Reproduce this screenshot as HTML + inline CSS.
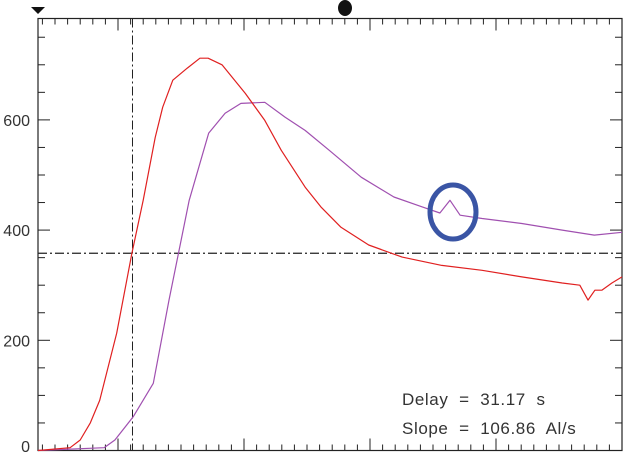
<!DOCTYPE html>
<html><head><meta charset="utf-8"><style>
body{margin:0;background:#fff;}
svg{display:block;font-family:"Liberation Sans",sans-serif;}
</style></head><body>
<svg id="c" width="629" height="453"></svg>
<script>
const redX=[7.3,12.4,14.0,15.6,17.1,19.8,22.2,24.0,25.9,27.1,28.7,31.0,33.0,34.3,36.5,40.2,43.3,45.9,49.7,52.2,55.4,59.8,65.1,71.4,77.8,84.1,90.5,93.3,94.6,95.7,96.8,98.4,100];
const redY=[0,5,19,50,91,213,358,454,568,623,672,694,712,712,700,648,599,545,478,442,405,373,351,336,327,315,304,300,273,291,291,304,315];
const purX=[7.3,17.8,19.5,22.4,25.6,28.1,31.3,34.4,37.0,39.5,43.3,46.5,49.7,53.5,58.6,63.8,68.3,71.1,72.7,74.3,77.8,84.1,90.5,95.6,100];
const purY=[0,5,19,61,122,273,454,576,612,630,632,605,581,545,496,460,442,431,454,427,421,412,400,391,396];
const yTicks=[0,200,400,600];
const xMajor=[20,40,60,80,100];
const refX=22.3, refY=358;
const NS="http://www.w3.org/2000/svg";
const svg=document.getElementById('c');
const L=38,R=622,T=18.5,B=450.5;
const X0=7.3,X1=100,Y0=0,Y1=784;
const sx=v=>L+(v-X0)/(X1-X0)*(R-L);
const sy=v=>B-(v-Y0)/(Y1-Y0)*(B-T);
function el(t,a){const e=document.createElementNS(NS,t);for(const k in a)e.setAttribute(k,a[k]);svg.appendChild(e);return e;}
let f=el('rect',{x:L,y:T,width:R-L,height:B-T,fill:'none',stroke:'#222','stroke-width':1.2});


for(let v=0;v<=Y1;v+=50){const y=sy(v),len=v%200===0?12:7;
 let a=el('line',{x1:L,x2:L+len,y1:y,y2:y,stroke:'#222'});
 
 
 let b=el('line',{x1:R,x2:R-len,y1:y,y2:y,stroke:'#222'});
 
 }
yTicks.forEach(v=>{let t=el('text',{x:30,y:Math.min(sy(v)+6,452),'text-anchor':'end','font-size':16,fill:'#333'});t.textContent=v;
 
 });
for(let v=20-12*2;v<=X1+0.01;v+=2){if(v<X0)continue;const x=sx(v),maj=xMajor.includes(Math.round(v)),len=maj?12:6;
 let a=el('line',{x1:x,x2:x,y1:B,y2:B-len,stroke:'#222'});
 
 
 let b=el('line',{x1:x,x2:x,y1:T,y2:T+len,stroke:'#222'});
 
 }
let vl=el('line',{x1:sx(refX),x2:sx(refX),y1:T,y2:B,stroke:'#222','stroke-dasharray':'9,3,2,3'});


let hl=el('line',{x1:L,x2:R,y1:sy(refY),y2:sy(refY),stroke:'#222','stroke-dasharray':'9,3,2,3','stroke-width':1.3});


function path(xs,ys,c,n){let d=xs.map((x,i)=>(i?'L':'M')+sx(x).toFixed(1)+','+sy(ys[i]).toFixed(1)).join('');
 let p=el('path',{d:d,fill:'none',stroke:c,'stroke-width':1.2,'stroke-linejoin':'round'});
 
 }
path(purX,purY,'#a050b0','purple-series');
path(redX,redY,'#e02020','red-series');
let ci=el('ellipse',{cx:453,cy:212,rx:23,ry:27,fill:'none',stroke:'#3a55a5','stroke-width':5});


let tri=el('path',{d:'M31,7 L45,7 L38,14 Z',fill:'#111'});


let dot=el('ellipse',{cx:345,cy:8,rx:7,ry:8,fill:'#111'});


[['Delay  =  31.17  s',405,'delay-label'],['Slope  =  106.86  Al/s',434,'slope-label']].forEach(a=>{
 let t=el('text',{x:402,y:a[1],'font-size':17,fill:'#333','letter-spacing':'0.6'});t.setAttribute('xml:space','preserve');t.style.whiteSpace='pre';t.textContent=a[0];
 
 });
</script>
</body></html>
